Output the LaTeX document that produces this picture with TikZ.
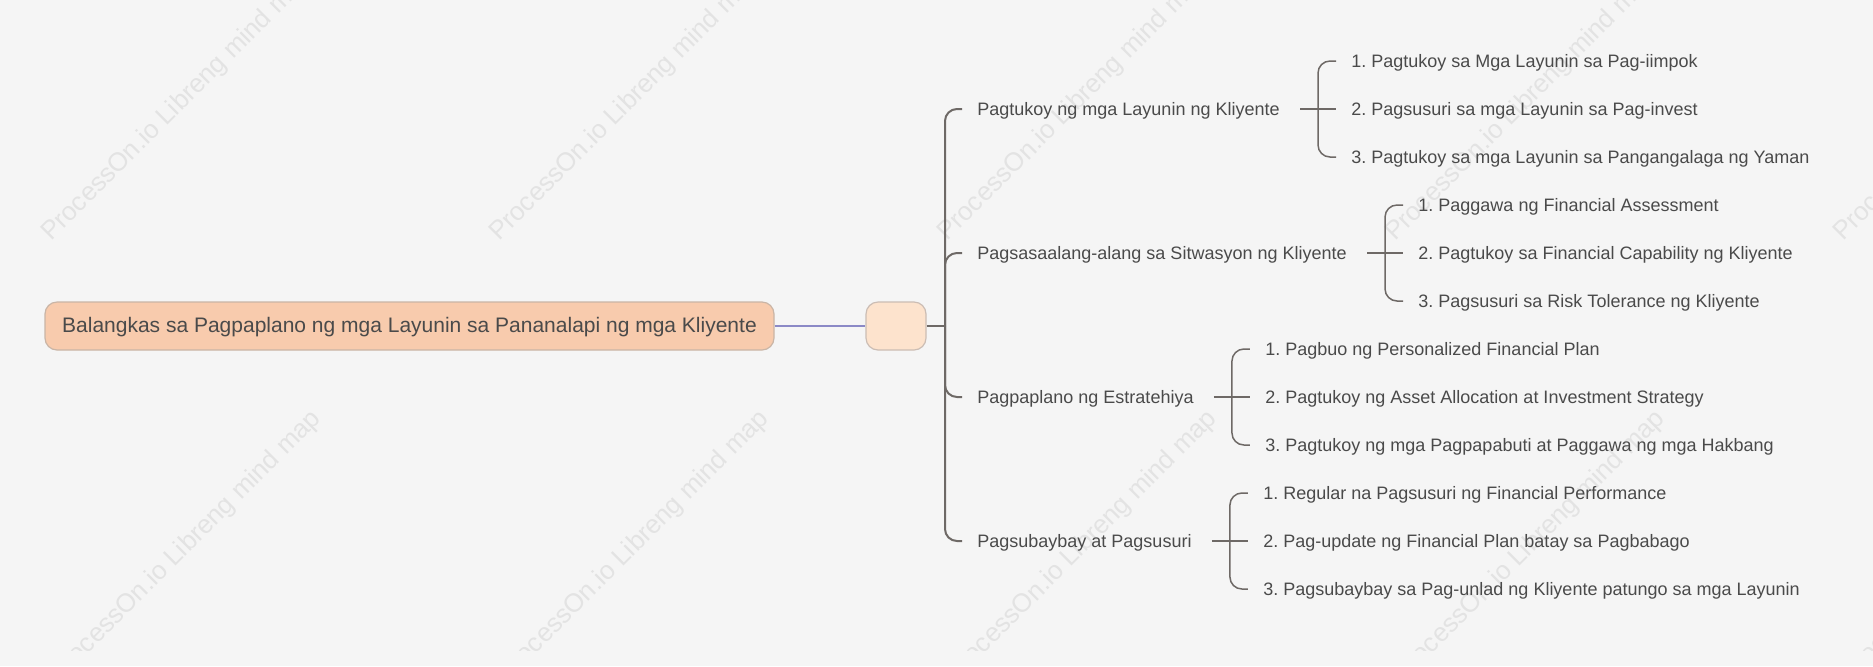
\documentclass[tikz,border=0pt]{standalone}
\usepackage{fontspec}
\setmainfont{Liberation Sans}
\usetikzlibrary{positioning}
\definecolor{sfondo}{HTML}{F5F5F5}
\definecolor{testo}{HTML}{4A4A4A}
\definecolor{radice}{HTML}{F8CBAD}
\definecolor{radicebordo}{HTML}{C9B5A6}
\definecolor{centro}{HTML}{FDE3CD}
\definecolor{centrobordo}{HTML}{CBBDB4}
\definecolor{ramo}{HTML}{6E6966}
\definecolor{viola}{HTML}{8B89C6}
\definecolor{filigrana}{HTML}{E3E3E3}
\frenchspacing

\begin{document}
\begin{tikzpicture}[x=0.5pt,y=-0.5pt]
\tikzset{base/.style={text=testo, align=left, inner sep=0pt, text height=7.4pt, text depth=1.1pt}, }
\tikzset{root node/.style={base, font=\fontsize{10.5}{12}\selectfont, fill=radice, draw=radicebordo, line width=0.6pt, rounded corners=6pt, minimum width=364.5pt, minimum height=24pt, align=center}, }
\tikzset{hub node/.style={fill=centro, draw=centrobordo, line width=0.6pt, rounded corners=6pt, minimum width=30pt, minimum height=24pt}, }
\tikzset{topic node/.style={base, font=\fontsize{9}{11}\selectfont, anchor=west}, }
\tikzset{leaf node/.style={base, font=\fontsize{9}{11}\selectfont, anchor=west}, }
\tikzset{watermark/.style={text=filigrana, font=\fontsize{13}{13}\selectfont, anchor=base west, rotate=45, inner sep=0pt}, }
\tikzset{link/.style={draw=viola, line width=0.6pt}, }
\tikzset{trunk/.style={draw=ramo, line width=1pt}, }
\tikzset{bracket/.style={draw=ramo, line width=0.75pt}, }

\fill[sfondo] (0,0) rectangle (1873,666);
\useasboundingbox (0,0) rectangle (1873,666);

% filigrana
\begin{scope}
\clip (0,0) rectangle (1873,650);
\foreach \i in {0,...,4} {
  \node[watermark] (wa\i) at ({51+448*\i},242) {ProcessOn.io Libreng mind map};
  \node[watermark] (wb\i) at ({59+448*\i},683) {ProcessOn.io Libreng mind map};
}
\end{scope}

% radice e centro
\node[root node] (radice) at (409.5,326) {Balangkas sa Pagpaplano ng mga Layunin sa Pananalapi ng mga Kliyente};
\node[hub node] (hub) at (896,326) {};
\coordinate (spine) at (945,326);

% rami principali
\node[topic node] (t1) at (977,109) {Pagtukoy ng mga Layunin ng Kliyente};
\node[topic node] (t2) at (977,253) {Pagsasaalang-alang sa Sitwasyon ng Kliyente};
\node[topic node] (t3) at (977,397) {Pagpaplano ng Estratehiya};
\node[topic node] (t4) at (977,541) {Pagsubaybay at Pagsusuri};

% foglie
\node[leaf node, right=35.5pt of t1] (l12) {2. Pagsusuri sa mga Layunin sa Pag-invest};
\node[leaf node] (l11) at ([yshift=24pt]l12.west) {1. Pagtukoy sa Mga Layunin sa Pag-iimpok};
\node[leaf node] (l13) at ([yshift=-24pt]l12.west) {3. Pagtukoy sa mga Layunin sa Pangangalaga ng Yaman};

\node[leaf node, right=35.5pt of t2] (l22) {2. Pagtukoy sa Financial Capability ng Kliyente};
\node[leaf node] (l21) at ([yshift=24pt]l22.west) {1. Paggawa ng Financial Assessment};
\node[leaf node] (l23) at ([yshift=-24pt]l22.west) {3. Pagsusuri sa Risk Tolerance ng Kliyente};

\node[leaf node, right=35.5pt of t3] (l32) {2. Pagtukoy ng Asset Allocation at Investment Strategy};
\node[leaf node] (l31) at ([yshift=24pt]l32.west) {1. Pagbuo ng Personalized Financial Plan};
\node[leaf node] (l33) at ([yshift=-24pt]l32.west) {3. Pagtukoy ng mga Pagpapabuti at Paggawa ng mga Hakbang};

\node[leaf node, right=35.5pt of t4] (l42) {2. Pag-update ng Financial Plan batay sa Pagbabago};
\node[leaf node] (l41) at ([yshift=24pt]l42.west) {1. Regular na Pagsusuri ng Financial Performance};
\node[leaf node] (l43) at ([yshift=-24pt]l42.west) {3. Pagsubaybay sa Pag-unlad ng Kliyente patungo sa mga Layunin};

% collegamenti
\draw[link] (radice.east) -- (hub.west);
\draw[trunk] (hub.east) -- (spine);
\foreach \t in {t1,t2,t3,t4}
  \draw[trunk, rounded corners=6pt] (spine) |- ([xshift=-7.5pt]\t.west);
\foreach \g in {1,...,4} {
  \draw[bracket] ([xshift=10pt]t\g.east) -- ([xshift=-7.5pt]l\g2.west);
  \draw[bracket, rounded corners=6pt] ([xshift=-7.5pt]l\g1.west) -| ([xshift=-16.5pt]l\g2.west) |- ([xshift=-7.5pt]l\g3.west);
}
\end{tikzpicture}
\end{document}
